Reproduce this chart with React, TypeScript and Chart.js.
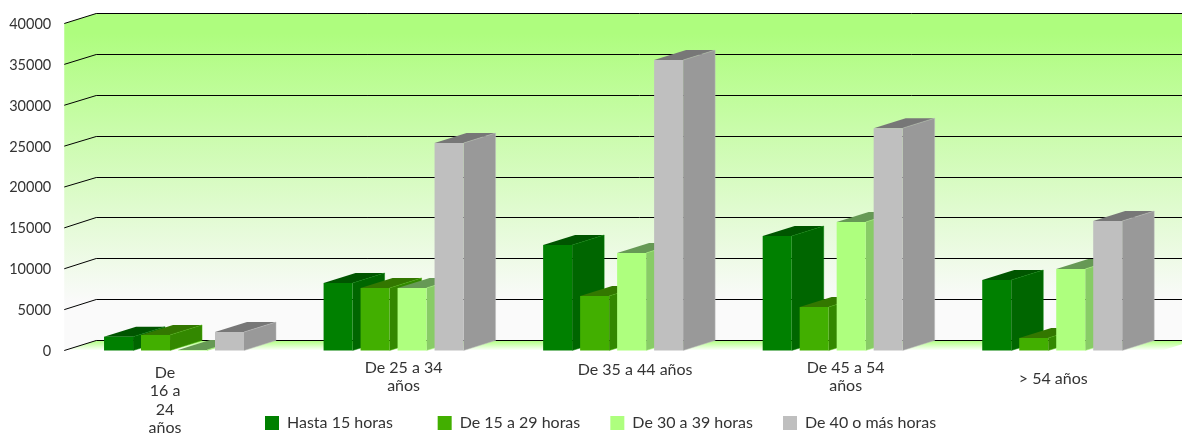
import React, { useEffect, useRef } from "react";
import { Chart, registerables } from "chart.js";

Chart.register(...registerables);

const categories = [["De", "16 a", "24", "años"], ["De 25 a 34", "años"], "De 35 a 44 años", ["De 45 a 54", "años"], "> 54 años"];
const hasta15 = [1690, 8250, 12900, 14000, 8620];
const de15a29 = [1900, 7650, 6670, 5320, 1530];
const de30a39 = [60, 7650, 11930, 15720, 9970];
const de40mas = [2260, 25380, 35530, 27200, 15840];

const seriesNames = ["Hasta 15 horas", "De 15 a 29 horas", "De 30 a 39 horas", "De 40 o más horas"];
const frontColors = ["#008000", "#42AF00", "#AEFF7E", "#BFBFBF"];
const sideColors = ["#006600", "#338800", "#88CC66", "#999999"];
const topColors = ["#005500", "#337700", "#669955", "#777777"];
const edgeColors = ["rgba(0,128,0,0.5)", "rgba(66,175,0,0.5)", "rgba(174,255,126,0.5)", "rgba(191,191,191,0.5)"];

const DEPTH_X = 32;
const DEPTH_Y = 10;
const LEGEND_START = 265;
const LEGEND_STEP = 172.67;
const LEGEND_ROW = 415;
const LEGEND_GAP = 45;
const labelDx = [-9, 10, 22, 13, 1];
const labelDy = [5, 0, 2, 0, 11];
const FONT = "Lato, sans-serif";

function poly(ctx: CanvasRenderingContext2D, pts: number[][], fill: any) {
  ctx.beginPath();
  pts.forEach((p, i) => (i ? ctx.lineTo(p[0], p[1]) : ctx.moveTo(p[0], p[1])));
  ctx.closePath();
  ctx.fillStyle = fill;
  ctx.fill();
}

const scene3d = {
  id: "scene3d",
  afterUpdate(chart: any) {
    const { x, y } = chart.scales;
    x.bottom = chart.height;
    x.getLabelItems().forEach((it: any, i: number) => {
      it.options.translation[0] += labelDx[i];
      it.options.translation[1] += labelDy[i];
    });
    y.getLabelItems().forEach((it: any) => {
      it.options.translation[1] += 0.75;
    });
    const legend = chart.legend;
    legend.left = 0;
    legend.right = chart.width + 1000;
    legend.top = LEGEND_ROW - LEGEND_GAP;
    legend.bottom = chart.height;
    if (!legend.__cells) {
      legend.__cells = true;
      const drawRow = legend._draw.bind(legend);
      // The reference legend has equal-width cells, so each entry is placed in its own cell.
      legend._draw = () => {
        const items = legend.legendItems;
        items.forEach((item: any, i: number) => {
          legend.legendItems = [item];
          legend.left = LEGEND_START + LEGEND_STEP * i - LEGEND_GAP;
          drawRow();
        });
        legend.legendItems = items;
        legend.left = 0;
      };
    }
  },
  beforeDatasetsDraw(chart: any) {
    const { ctx, chartArea: a, scales } = chart;
    const y = scales.y;
    const top = y.getPixelForValue(40000);
    const base = y.getPixelForValue(0);
    const wall = ctx.createLinearGradient(0, top - DEPTH_Y, 0, base - DEPTH_Y);
    wall.addColorStop(0, "#AEFD7E");
    wall.addColorStop(0.06, "#AEFD7E");
    wall.addColorStop(0.88, "#FAFAFA");
    wall.addColorStop(1, "#FAFAFA");
    poly(ctx, [[a.left, top], [a.left + DEPTH_X, top - DEPTH_Y], [a.right + DEPTH_X, top - DEPTH_Y], [a.right + DEPTH_X, base - DEPTH_Y], [a.left + DEPTH_X, base - DEPTH_Y], [a.left, base]], wall);
    const floor = ctx.createLinearGradient(0, base - DEPTH_Y, 0, base);
    floor.addColorStop(0, "#AEFF7E");
    floor.addColorStop(1, "#FFFFFF");
    poly(ctx, [[a.left, base], [a.left + DEPTH_X, base - DEPTH_Y], [a.right + DEPTH_X, base - DEPTH_Y], [a.right, base]], floor);
    ctx.save();
    ctx.strokeStyle = "#000";
    ctx.lineWidth = 1;
    y.ticks.forEach((t: any) => {
      const py = y.getPixelForValue(t.value);
      const by = Math.floor(py - DEPTH_Y) + 0.5;
      ctx.beginPath();
      ctx.moveTo(a.left, py);
      ctx.lineTo(a.left + DEPTH_X, by);
      ctx.lineTo(a.right + DEPTH_X, by);
      ctx.stroke();
    });
    ctx.restore();
    // Later series sit in front of the earlier ones' side faces.
    chart.data.datasets.forEach((_: any, i: number) => {
      const meta = chart.getDatasetMeta(i);
      meta.data.forEach((b: any) => {
        const l = b.x - b.width / 2;
        const r = b.x + b.width / 2;
        const t = b.y;
        const bo = b.base;
        poly(ctx, [[r, t], [r + DEPTH_X, t - DEPTH_Y], [r + DEPTH_X, bo - DEPTH_Y], [r, bo]], sideColors[i]);
        poly(ctx, [[l, t], [l + DEPTH_X, t - DEPTH_Y], [r + DEPTH_X, t - DEPTH_Y], [r, t]], topColors[i]);
        ctx.save();
        ctx.strokeStyle = edgeColors[i];
        ctx.lineWidth = 1;
        ctx.beginPath();
        ctx.moveTo(r, t);
        ctx.lineTo(r + DEPTH_X, t - DEPTH_Y);
        ctx.lineTo(r + DEPTH_X, bo - DEPTH_Y);
        ctx.lineTo(r, bo);
        ctx.stroke();
        ctx.restore();
      });
      meta.controller.draw();
    });
  },
  beforeDatasetDraw() {
    return false;
  },
};

export default function App() {
  const ref = useRef<HTMLCanvasElement>(null);
  useEffect(() => {
    document.body.style.margin = "0";
    const values = [hasta15, de15a29, de30a39, de40mas];
    const chart = new Chart(ref.current!, {
      type: "bar",
      data: {
        labels: categories as any,
        datasets: values.map((data, i) => ({
          label: seriesNames[i],
          data,
          backgroundColor: frontColors[i],
          borderWidth: 0,
          categoryPercentage: 0.674,
          barPercentage: 0.784,
        })),
      },
      options: {
        responsive: false,
        animation: false,
        layout: { padding: { left: 0, right: 20, top: 23.5, bottom: 0 } },
        plugins: {
          tooltip: { enabled: false },
          title: { display: false },
          legend: {
            position: "bottom",
            align: "start",
            maxHeight: 1,
            labels: { boxWidth: 14, boxHeight: 14, padding: LEGEND_GAP, color: "#333", font: { family: FONT, size: 16 } },
          } as any,
        },
        scales: {
          x: {
            border: { display: false },
            grid: { display: false, drawTicks: false },
            ticks: { autoSkip: false, maxRotation: 0, minRotation: 0, padding: 8, color: "#333", font: { family: FONT, size: 16, lineHeight: 1.15 } },
            afterFit: (s: any) => { s.height = 81.5; },
          },
          y: {
            min: 0,
            max: 40000,
            border: { display: false },
            grid: { display: false, drawTicks: false },
            ticks: { stepSize: 5000, padding: 13, color: "#333", font: { family: FONT, size: 14.5 }, callback: (v: any) => String(v) },
            afterFit: (s: any) => { s.width = 64.25; },
          },
        },
      },
      plugins: [scene3d],
    });
    return () => chart.destroy();
  }, []);
  return <canvas ref={ref} width={1182} height={433} style={{ display: "block" }} />;
}
